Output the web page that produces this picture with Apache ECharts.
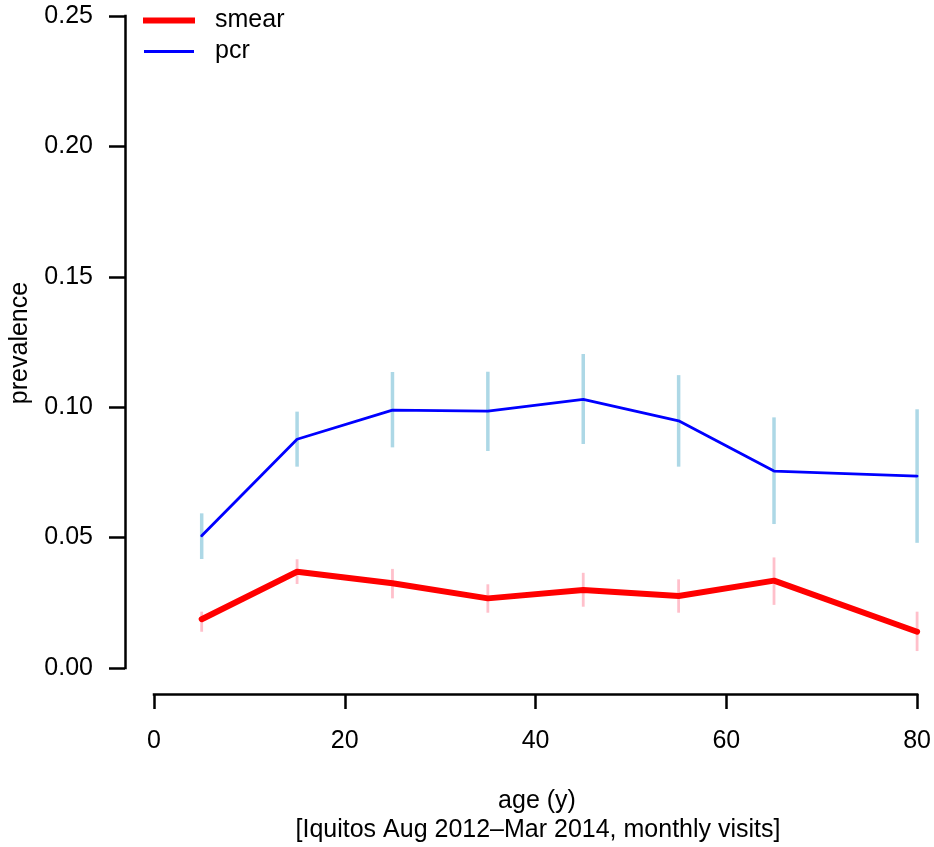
<!DOCTYPE html>
<html>
<head>
<meta charset="utf-8">
<script src="https://cdn.jsdelivr.net/npm/echarts@6/dist/echarts.min.js"></script>
<style>html,body{margin:0;padding:0;background:#fff;}#c{width:934px;height:847px;}</style>
</head>
<body>
<div id="c"></div>
<script>
// ---- data ----
const ages = [5, 15, 25, 35, 45, 55, 65, 80];
const smear   = [0.0187, 0.0369, 0.0325, 0.0267, 0.0299, 0.0276, 0.0335, 0.0139];
const smearLo = [0.0139, 0.0322, 0.0267, 0.0212, 0.0235, 0.0212, 0.0242, 0.0065];
const smearHi = [0.0216, 0.0417, 0.0380, 0.0321, 0.0365, 0.0340, 0.0424, 0.0216];
const pcr     = [0.0507, 0.0877, 0.0989, 0.0985, 0.1030, 0.0948, 0.0755, 0.0736];
const pcrLo   = [0.0418, 0.0772, 0.0846, 0.0832, 0.0859, 0.0772, 0.0552, 0.0480];
const pcrHi   = [0.0593, 0.0983, 0.1135, 0.1136, 0.1204, 0.1123, 0.0961, 0.0992];
const yTicks = [0, 0.05, 0.10, 0.15, 0.20, 0.25];
const xTicks = [0, 20, 40, 60, 80];
const xTitle = 'age (y)';
const subTitle = '[Iquitos Aug 2012\u2013Mar 2014, monthly visits]';
const yTitle = 'prevalence';

const FONT = '"Liberation Sans", Arial, Helvetica, sans-serif';
const FS = 25;

function pairs(xs, ys) { return xs.map((x, i) => [x, ys[i]]); }
function bars(xs, lo, hi) { return xs.map((x, i) => [x, lo[i], hi[i]]); }

function errRender(color, width) {
  return function (params, api) {
    const a = api.coord([api.value(0), api.value(1)]);
    const b = api.coord([api.value(0), api.value(2)]);
    return {
      type: 'line',
      shape: { x1: a[0], y1: a[1], x2: b[0], y2: b[1] },
      style: { stroke: color, lineWidth: width }
    };
  };
}

const chart = echarts.init(document.getElementById('c'), null, { renderer: 'canvas' });
chart.setOption({
  animation: false,
  backgroundColor: '#fff',
  textStyle: { fontFamily: FONT },
  grid: { left: 154, right: 16, top: 16, bottom: 179, containLabel: false },
  legend: [
    {
      data: ['smear'], left: 143, top: 8, padding: 0,
      icon: 'rect', itemWidth: 52, itemHeight: 6,
      textStyle: { fontSize: FS, color: '#000', fontFamily: FONT, padding: [0, 0, 0, 15] }
    },
    {
      data: ['pcr'], left: 144, top: 39, padding: 0,
      icon: 'rect', itemWidth: 50, itemHeight: 3,
      textStyle: { fontSize: FS, color: '#000', fontFamily: FONT, padding: [0, 0, 0, 16] }
    }
  ],
  xAxis: {
    type: 'value', min: xTicks[0], max: xTicks[xTicks.length - 1], interval: 20,
    offset: 26,
    axisLine: { show: true, onZero: false, lineStyle: { color: '#000', width: 2.5, cap: 'square' } },
    axisTick: { show: true, length: 15, lineStyle: { color: '#000', width: 2.5 } },
    axisLabel: { color: '#000', fontSize: FS, fontFamily: FONT, margin: 35 },
    splitLine: { show: false }
  },
  yAxis: {
    type: 'value', min: yTicks[0], max: yTicks[yTicks.length - 1], interval: 0.05,
    offset: 29,
    axisLine: { show: true, onZero: false, lineStyle: { color: '#000', width: 2.5, cap: 'square' } },
    axisTick: { show: true, length: 16, lineStyle: { color: '#000', width: 2.5 } },
    axisLabel: { color: '#000', fontSize: FS, fontFamily: FONT, margin: 32,
      formatter: v => v.toFixed(2) },
    splitLine: { show: false }
  },
  graphic: [
    { type: 'text', style: { text: xTitle, x: 537, y: 801, align: 'center', verticalAlign: 'middle', fontSize: FS, fontFamily: FONT, fill: '#000' } },
    { type: 'text', style: { text: subTitle, x: 538, y: 830, align: 'center', verticalAlign: 'middle', fontSize: FS, fontFamily: FONT, fill: '#000' } },
    { type: 'text', x: 20, y: 343, rotation: Math.PI / 2, style: { text: yTitle, x: 0, y: 0, align: 'center', verticalAlign: 'middle', fontSize: FS, fontFamily: FONT, fill: '#000' } }
  ],
  series: [
    {
      name: 'pcrErr', type: 'custom', renderItem: errRender('#add8e6', 3.5),
      data: bars(ages, pcrLo, pcrHi), z: 1, silent: true
    },
    {
      name: 'smearErr', type: 'custom', renderItem: errRender('#ffc0cb', 2.8),
      data: bars(ages, smearLo, smearHi), z: 1, silent: true
    },
    {
      name: 'smear', type: 'line', data: pairs(ages, smear), z: 3,
      showSymbol: false, symbol: 'none',
      itemStyle: { color: '#ff0000' },
      lineStyle: { color: '#ff0000', width: 6, cap: 'round', join: 'round' }
    },
    {
      name: 'pcr', type: 'line', data: pairs(ages, pcr), z: 3,
      showSymbol: false, symbol: 'none',
      itemStyle: { color: '#0000ff' },
      lineStyle: { color: '#0000ff', width: 2.8, cap: 'round', join: 'round' }
    }
  ]
});
</script>
</body>
</html>
